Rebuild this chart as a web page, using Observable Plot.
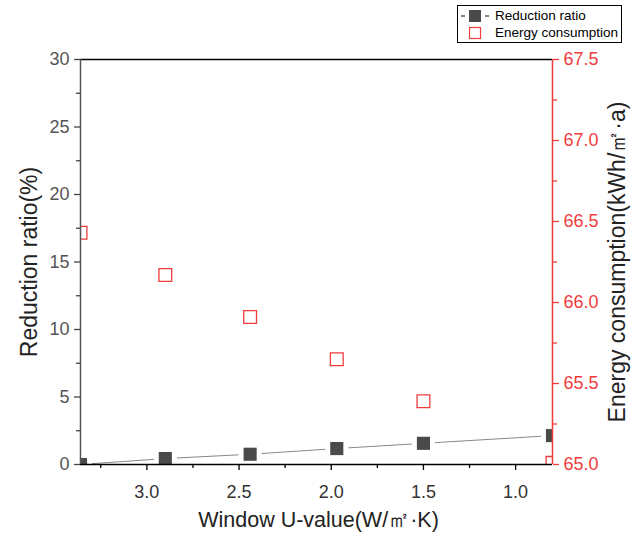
<!DOCTYPE html>
<html><head><meta charset="utf-8">
<script src="https://cdn.jsdelivr.net/npm/d3@7"></script>
<script src="https://cdn.jsdelivr.net/npm/@observablehq/plot@0.6"></script>
<style>
body{margin:0;background:#fff;}
#wrap{position:relative;width:640px;height:535px;font-family:"Liberation Sans",Arial,sans-serif;}
#legend{position:absolute;left:457px;top:5px;width:165px;height:38px;border:1px solid #000;background:#fff;box-sizing:border-box;font-size:13.5px;color:#000;}
#legend .row{position:absolute;left:0;height:16px;line-height:16px;white-space:nowrap;}
#legend svg{position:absolute;left:0;top:1px;}
#legend .lab{position:absolute;left:37px;top:0;}
</style></head><body>
<div id="wrap"><div id="chart"></div>
<div id="legend">
  <div class="row" style="top:2px"><svg width="36" height="14"><line x1="3" x2="7" y1="7" y2="7" stroke="#333" stroke-width="1.2"/><rect x="11" y="1" width="12" height="12" fill="#4a4a4a"/><line x1="27" x2="31" y1="7" y2="7" stroke="#333" stroke-width="1.2"/></svg><span class="lab">Reduction ratio</span></div>
  <div class="row" style="top:19px"><svg width="36" height="14"><rect x="11.5" y="1.5" width="11" height="11" fill="none" stroke="#f04040" stroke-width="1.2"/></svg><span class="lab">Energy consumption</span></div>
</div>
</div>
<script>
const uValues = [3.36, 2.9, 2.44, 1.97, 1.5, 0.8];
const reductionRatio = [0, 0.44, 0.76, 1.18, 1.57, 2.14];
const energyConsumption = [66.43, 66.17, 65.91, 65.65, 65.39, 65.01];
const leftTicks = [0, 5, 10, 15, 20, 25, 30];
const leftMinorTicks = [2.5, 7.5, 12.5, 17.5, 22.5, 27.5];
const rightTicks = [65.0, 65.5, 66.0, 66.5, 67.0, 67.5];
const rightMinorTicks = [65.25, 65.75, 66.25, 66.75, 67.25];
const xTicks = [3.0, 2.5, 2.0, 1.5, 1.0];
const xMinorTicks = [3.25, 2.75, 2.25, 1.75, 1.25];
const xTitle = "Window U-value(W/㎡·K)";
const yLeftTitle = "Reduction ratio(%)";
const yRightTitle = "Energy consumption(kWh/㎡·a)";

const xDomain = [0.8, 3.36];
const yDomain = [0, 30];
const eDomain = [65, 67.5];
const toLeft = e => (e - eDomain[0]) / (eDomain[1] - eDomain[0]) * (yDomain[1] - yDomain[0]) + yDomain[0];
const data = uValues.map((u, i) => ({u, r: reductionRatio[i], e: toLeft(energyConsumption[i])}));

const RED = "#f03c3c";
const FONT = "\"Liberation Sans\", Arial, sans-serif";

const chart = Plot.plot({
  width: 640, height: 535,
  marginLeft: 80, marginRight: 88, marginTop: 59, marginBottom: 71,
  style: {fontFamily: FONT, background: "#fff", overflow: "visible"},
  x: {domain: xDomain, reverse: true},
  y: {domain: yDomain},
  marks: [
    Plot.line(data, {x: "u", y: "r", stroke: "#888", strokeWidth: 1, clip: true}),
    Plot.dot(data, {x: "u", y: "r", symbol: "square", r: 13, fill: "#fff", stroke: "none", clip: true}),
    Plot.dot(data, {x: "u", y: "r", symbol: "square", r: 7.4, fill: "#4a4a4a", stroke: "none", clip: true}),
    Plot.dot(data, {x: "u", y: "e", symbol: "square", r: 7.2, fill: "none", stroke: RED, strokeWidth: 1.3, clip: true}),
    // frame
    Plot.ruleY([yDomain[1]], {stroke: "#000", strokeWidth: 1.5}),
    Plot.ruleY([yDomain[0]], {stroke: "#000", strokeWidth: 1.5}),
    Plot.ruleX([xDomain[1]], {stroke: "#555", strokeWidth: 1.5}),
    Plot.ruleX([xDomain[0]], {stroke: RED, strokeWidth: 1.5}),
    // left axis
    Plot.axisY({anchor: "left", ticks: leftTicks, tickSize: 6, tickPadding: 5, fontSize: 18, fill: "#555", stroke: "#444", strokeWidth: 1.3, label: null}),
    Plot.axisY({anchor: "left", ticks: leftMinorTicks, tickSize: 4, tickFormat: () => "", stroke: "#444", strokeWidth: 1.3, label: null}),
    // right axis
    Plot.axisY({anchor: "right", ticks: rightTicks.map(toLeft), tickFormat: (d, i) => rightTicks[i].toFixed(1), tickSize: 6, tickPadding: 5, fontSize: 18, fill: RED, stroke: RED, strokeWidth: 1.3, label: null}),
    Plot.axisY({anchor: "right", ticks: rightMinorTicks.map(toLeft), tickSize: 4, tickFormat: () => "", stroke: RED, strokeWidth: 1.3, label: null}),
    // bottom axis
    Plot.axisX({anchor: "bottom", ticks: xTicks, tickFormat: d => d.toFixed(1), tickSize: 6, tickPadding: 15, fontSize: 18, fill: "#333", stroke: "#000", strokeWidth: 1.3, label: null}),
    Plot.axisX({anchor: "bottom", ticks: xMinorTicks, tickSize: 4, tickFormat: () => "", stroke: "#000", strokeWidth: 1.3, label: null}),
    // titles
    Plot.text([yLeftTitle], {text: d => d, frameAnchor: "left", textAnchor: "middle", dx: -51, rotate: -90, fontSize: 23, fill: "#222"}),
    Plot.text([yRightTitle], {text: d => d, frameAnchor: "right", textAnchor: "middle", dx: 65, dy: 0, rotate: -90, fontSize: 23, fill: "#222"}),
    Plot.text([xTitle], {text: d => d, frameAnchor: "bottom", dx: 2, dy: 62, fontSize: 21.5, fill: "#222"})
  ]
});
document.getElementById("chart").appendChild(chart);
</script>
</body></html>
